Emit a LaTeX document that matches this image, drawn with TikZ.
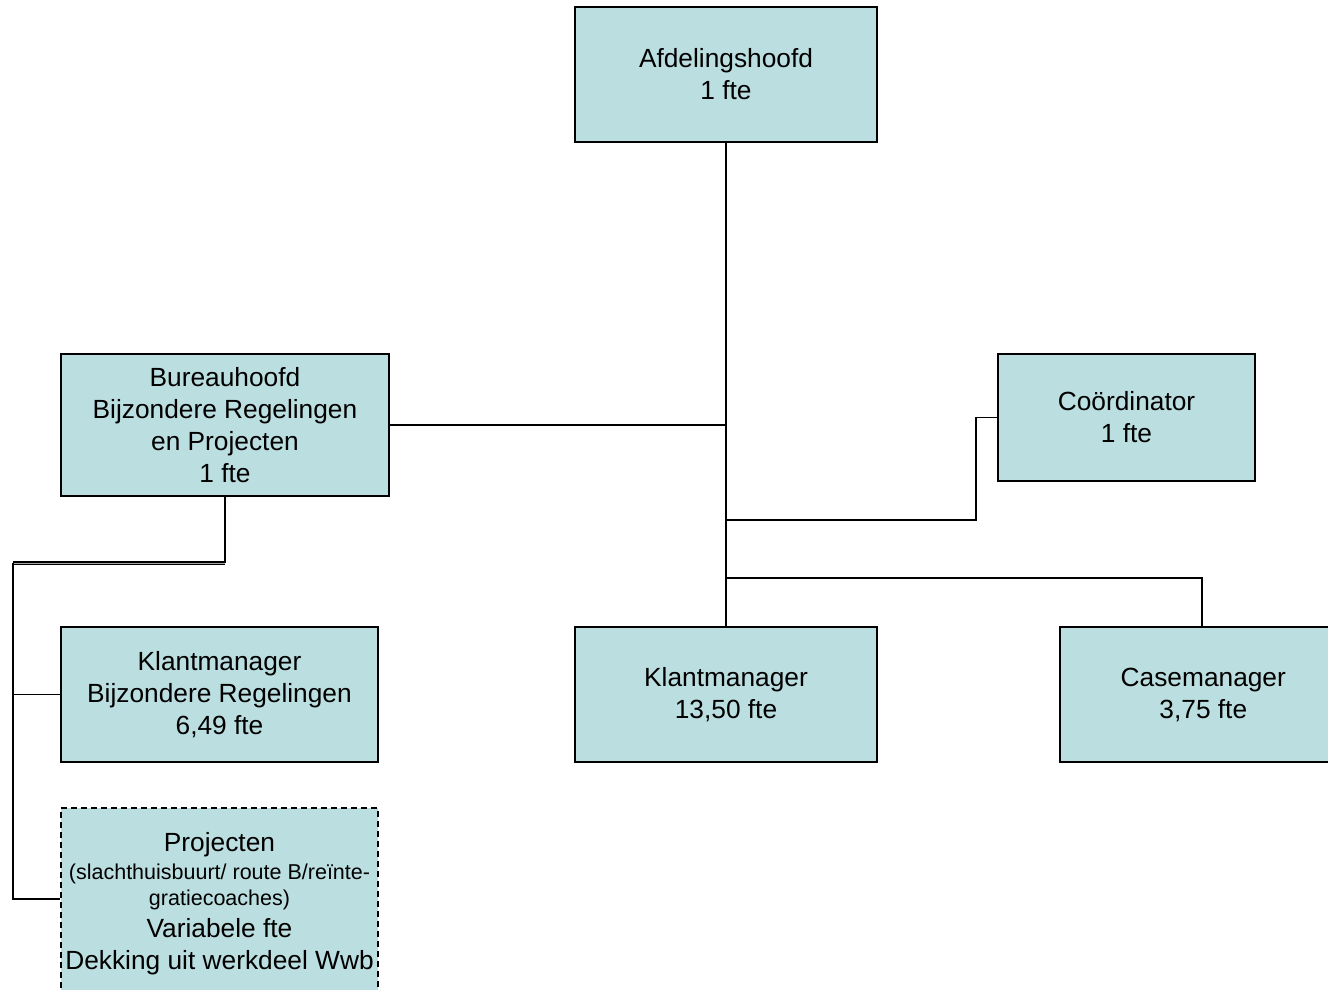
\documentclass[tikz,border=0pt]{standalone}
\usepackage{fontspec}
\setmainfont{Liberation Sans}
\definecolor{boxfill}{RGB}{187,222,224}
\tikzset{
  orgbox/.style={draw=black, line width=1.6pt, fill=boxfill, inner sep=0pt, align=center,
    font=\fontsize{26.3}{32}\selectfont},
  projbox/.style={orgbox, dash pattern=on 6pt off 4pt},
  conn/.style={draw=black, line width=1.6pt}
}
\newcommand{\smalltxt}[1]{{\fontsize{21.5}{25}\selectfont #1}}
\begin{document}
\begin{tikzpicture}[x=1pt,y=-1pt]
\useasboundingbox (0,0) rectangle (1328,990);
\node[orgbox, minimum width=302pt, minimum height=135pt] (afd) at (726,74.5) {Afdelingshoofd\\1 fte};
\node[orgbox, minimum width=328pt, minimum height=142pt] (bur) at (225,425) {Bureauhoofd\\Bijzondere Regelingen\\en Projecten\\1 fte};
\node[orgbox, minimum width=257pt, minimum height=127pt] (coo) at (1126.5,417.5) {Coördinator\\1 fte};
\node[orgbox, minimum width=317pt, minimum height=135pt] (kbr) at (219.5,694.5) {Klantmanager\\Bijzondere Regelingen\\6,49 fte};
\node[orgbox, minimum width=302pt, minimum height=135pt] (km) at (726,694.5) {Klantmanager\\13,50 fte};
\node[orgbox, minimum width=300pt, minimum height=135pt, anchor=west] (cm) at (1059,694.5) {\hspace*{-13pt}Casemanager\\\hspace*{-13pt}3,75 fte};
\node[projbox, minimum width=317pt, minimum height=192pt] (proj) at (219.5,904) {Projecten\\[-4pt]\smalltxt{(slachthuisbuurt/ route B/reïnte-}\\[-6pt]\smalltxt{gratiecoaches)}\\Variabele fte\\Dekking uit werkdeel Wwb};

\coordinate (jb) at (726,425);
\coordinate (jc) at (726,520);
\coordinate (jm) at (726,578);
\coordinate (cbend1) at (976,520);
\coordinate (cbend2) at (976,417.5);
\coordinate (mbend) at (1202,578);
\coordinate (lb1) at (225,563);
\coordinate (lb2) at (13,563);
\coordinate (lk) at (13,694.5);
\coordinate (lp) at (13,899);

\draw[conn] (afd.south) -- (km.north);
\draw[conn] (bur.east |- jb) -- (jb);
\draw[conn] (jc) -- (cbend1) -- (cbend2) -- (coo.west |- cbend2);
\draw[conn] (jm) -- (mbend) -- (mbend |- cm.north);
\draw[conn] (bur.south) -- (lb1);
\draw[black, line width=1.1pt, double=gray!70, double distance=1pt] (lb1) -- (lb2);
\draw[conn] (lb2) -- (lp) -- (proj.west |- lp);
\draw[conn] (lk) -- (kbr.west |- lk);
\end{tikzpicture}
\end{document}
